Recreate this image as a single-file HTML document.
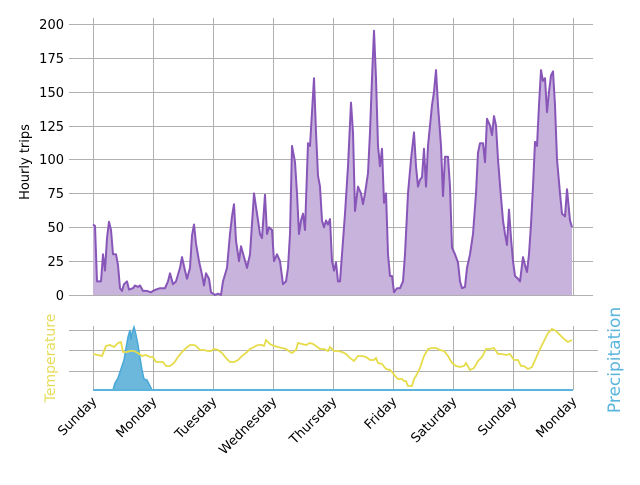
<!DOCTYPE html>
<html><head><meta charset="utf-8"><style>
body{margin:0;background:#fff;width:640px;height:480px;overflow:hidden}
svg{font-family:"DejaVu Sans","Liberation Sans",sans-serif}
</style></head><body>
<svg id="s" width="640" height="480" xmlns="http://www.w3.org/2000/svg">
<g stroke="#b0b0b0" stroke-width="1">
<line x1="69" x2="593" y1="24.5" y2="24.5"/><line x1="69" x2="593" y1="58.5" y2="58.5"/>
<line x1="69" x2="593" y1="92.5" y2="92.5"/><line x1="69" x2="593" y1="126.5" y2="126.5"/>
<line x1="69" x2="593" y1="159.5" y2="159.5"/><line x1="69" x2="593" y1="193.5" y2="193.5"/>
<line x1="69" x2="593" y1="227.5" y2="227.5"/><line x1="69" x2="593" y1="261.5" y2="261.5"/>
<line x1="69" x2="593" y1="295.5" y2="295.5"/>
<line x1="69" x2="598" y1="330.5" y2="330.5"/><line x1="69" x2="598" y1="350.5" y2="350.5"/><line x1="69" x2="598" y1="371.5" y2="371.5"/>
</g>
<g id="vg" stroke="#b0b0b0" stroke-width="1"></g>
<g font-size="13" fill="#000" text-anchor="end">
<text x="64" y="29">200</text><text x="64" y="63">175</text><text x="64" y="97">150</text><text x="64" y="131">125</text>
<text x="64" y="164">100</text><text x="64" y="198">75</text><text x="64" y="232">50</text><text x="64" y="266">25</text><text x="64" y="300">0</text>
</g>
<text transform="translate(29,162) rotate(-90)" font-size="13" text-anchor="middle">Hourly trips</text>
<text transform="translate(55,358) rotate(-90)" font-size="14" fill="#e6dc5a" text-anchor="middle">Temperature</text>
<text transform="translate(620,360) rotate(-90)" font-size="17" fill="#5ab4dc" text-anchor="middle">Precipitation</text>
<path id="pf" fill="#c8b3dc" stroke="none"/>
<path id="pl" fill="none" stroke="#8856b8" stroke-width="2" stroke-linejoin="round"/>
<path id="bf" fill="#6bb8dc" stroke="#4aa8d8" stroke-width="1.5"/>
<line x1="93" x2="573" y1="390" y2="390" stroke="#5ab4dc" stroke-width="2"/>
<path id="tl" fill="none" stroke="#e6dc4a" stroke-width="1.8"/>
<g id="lab" font-size="13" text-anchor="end"></g>
</svg>
<script>
var P=[93,52,95,51,97,10,101,10,103,30,105,18,107,42,109,54,111,48,113,30,116,30,118,22,120,5,122,3,124,8,127,10,129,4,133,5,135,7,138,6,140,7,143,3,147,3,151,2,153,3,156,4,160,5,165,5,168,10,170,16,173,8,176,10,180,20,182,28,185,18,187,12,190,20,192,44,194,52,196,38,199,25,202,15,204,7,206,16,209,12,211,2,213,1,215,0,218,1,221,0,223,10,227,20,230,45,232,58,234,67,236,40,239,25,241,36,244,28,247,20,250,30,254,75,257,60,260,45,262,42,265,74,267,45,269,50,272,48,274,25,277,30,280,25,283,8,286,10,288,20,290,45,292,110,295,98,297,75,299,45,301,55,303,60,305,48,308,112,310,110,312,135,314,160,316,120,318,88,320,80,322,55,324,50,326,55,328,52,330,56,332,25,334,18,336,24,338,10,340,10,342,30,345,60,348,95,351,142,353,120,355,62,358,80,361,75,363,67,365,75,368,90,370,120,372,160,374,195,376,160,378,110,380,95,382,108,384,68,386,75,388,30,390,14,392,14,394,2,397,5,400,5,403,10,405,30,408,75,411,100,414,120,416,95,418,80,420,85,422,87,424,108,426,80,428,110,430,125,432,140,434,150,436,166,438,140,441,110,443,73,445,102,448,102,450,80,452,35,455,30,458,24,460,10,462,5,465,6,467,20,470,30,473,45,476,75,478,105,480,112,483,112,485,98,487,130,490,125,492,118,494,132,496,125,498,100,501,72,503,55,505,45,507,37,509,63,511,42,513,25,515,14,518,12,520,10,523,28,525,22,527,17,529,30,531,52,533,80,535,113,537,110,539,140,541,166,543,158,545,160,547,135,549,150,551,162,553,165,555,140,557,100,560,75,562,60,565,58,567,78,570,55,572,50];
var d="";for(var i=0;i<P.length;i+=2){d+=(i?"L":"M")+P[i]+","+(295-P[i+1]*1.355).toFixed(1);}
document.getElementById('pl').setAttribute('d',d);
document.getElementById('pf').setAttribute('d',d+"L572,295L93,295Z");
var T=[93,354,98,355,102,356,106,346,110,345,114,347,118,343,121,342,123,352,127,352,130,351,134,351,138,353,142,356,146,355,150,357,153,357,156,362,160,362,163,362,166,366,170,366,174,363,178,357,182,352,186,348,190,345,194,345,196,346,200,350,204,350,208,351,211,351,214,349,218,350,222,353,226,358,230,362,234,362,238,360,242,356,246,353,250,349,254,347,258,345,262,345,264,346,266,340,270,344,274,346,278,347,282,348,286,349,290,352,292,353,296,350,298,343,302,344,306,345,310,343,313,344,316,346,320,349,324,349,328,351,330,347,334,351,338,351,342,352,346,354,350,358,354,361,358,356,362,356,366,357,370,360,374,360,376,358,378,363,382,364,386,369,390,370,392,372,396,377,398,379,402,379,404,381,406,381,408,386,412,386,414,379,416,376,420,368,424,356,428,349,432,348,436,348,440,350,444,351,448,356,452,363,456,366,460,367,464,366,466,363,470,370,474,368,478,361,482,357,486,349,490,349,494,348,498,354,502,354,506,355,510,354,514,360,518,360,521,366,524,366,528,369,532,367,536,358,540,349,544,341,548,333,552,329,556,331,560,335,564,339,568,342,572,340];
d="";for(i=0;i<T.length;i+=2)d+=(i?"L":"M")+T[i]+","+T[i+1];
document.getElementById('tl').setAttribute('d',d);
document.getElementById('bf').setAttribute('d',"M113,390L115,383L118,378L121,369L124,360L126,348L128,337L130,330L131,340L132,333L134,327L136,335L138,345L140,358L142,370L144,379L147,380L149,384L152,390Z");
var vg=document.getElementById('vg'),lab=document.getElementById('lab');
var days=["Sunday","Monday","Tuesday","Wednesday","Thursday","Friday","Saturday","Sunday","Monday"];
for(i=0;i<9;i++){var x=93+60*i+0.5;
vg.innerHTML+='<line x1="'+x+'" x2="'+x+'" y1="18" y2="295"/><line x1="'+x+'" x2="'+x+'" y1="326" y2="390"/>';
lab.innerHTML+='<text transform="translate('+(x+4)+',402) rotate(-45)">'+days[i]+'</text>';}
</script>
</body></html>
